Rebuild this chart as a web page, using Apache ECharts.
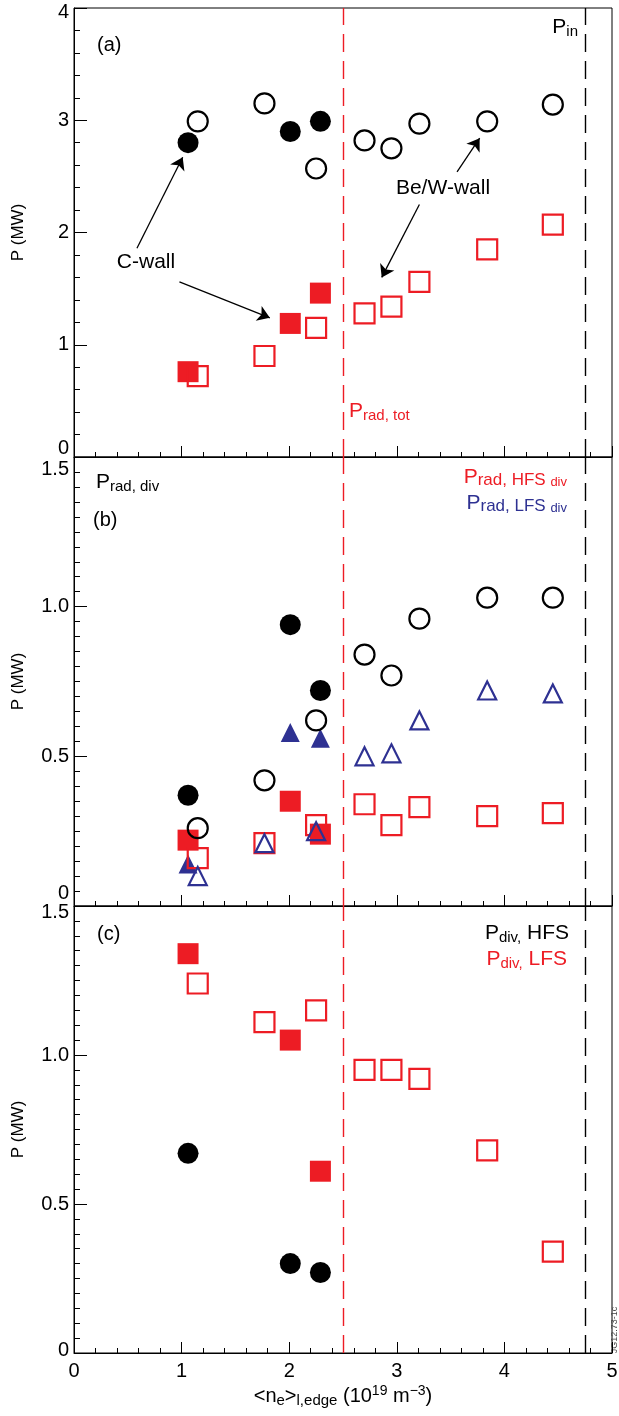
<!doctype html>
<html>
<head>
<meta charset="UTF-8">
<title>P vs edge density</title>
<script src="https://cdn.jsdelivr.net/npm/echarts@6/dist/echarts.min.js"></script>
<style>
  html, body { margin: 0; padding: 0; background: #fff; }
  #main { width: 619px; height: 1416px; }
</style>
</head>
<body>
<div id="main"></div>
<script>
// densities (10^19 m^-3)
var xC  = [1.06, 2.01, 2.29];                                   // C-wall
var xBW = [1.15, 1.77, 2.25, 2.70, 2.95, 3.21, 3.84, 4.45];     // Be/W-wall

// (a) P_in (black circles), P_rad,tot (red squares)
var aInC   = [2.80, 2.90, 2.99];
var aInBW  = [2.99, 3.15, 2.57, 2.82, 2.75, 2.97, 2.99, 3.14];
var aTotC  = [0.76, 1.19, 1.46];
var aTotBW = [0.72, 0.90, 1.15, 1.28, 1.34, 1.56, 1.85, 2.07];

// (b) P_rad,div (black), HFS div (red), LFS div (blue)
var bDivC  = [0.37, 0.94, 0.72];
var bDivBW = [0.26, 0.42, 0.62, 0.84, 0.77, 0.96, 1.03, 1.03];
var bHfsC  = [0.22, 0.35, 0.24];
var bHfsBW = [0.16, 0.21, 0.27, 0.34, 0.27, 0.33, 0.30, 0.31];
var bLfsC  = [0.14, 0.58, 0.56];
var bLfsBW = [0.10, 0.21, 0.25, 0.50, 0.51, 0.62, 0.72, 0.71];

// (c) P_div,HFS (black), P_div,LFS (red)
var cHfsC  = [0.67, 0.30, 0.27];
var cLfsC  = [1.34, 1.05, 0.61];
var cLfsBW = [1.24, 1.11, 1.15, 0.95, 0.95, 0.92, 0.68, 0.34];

var xTicks = [0, 1, 2, 3, 4, 5];
var radLimit = 2.5;   // red dashed line
var pinLine = 4.75;   // black dashed line

var RED = '#ed1c24', BLUE = '#2e3192', BLK = '#000';
var FONT = '"Liberation Sans", Arial, Helvetica, sans-serif';

function pts(xs, ys) { return xs.map(function (x, i) { return [x, ys[i]]; }); }

function filled(g, sym, col, size, xs, ys) {
    return { type: 'scatter', xAxisIndex: g, yAxisIndex: g, symbol: sym, symbolSize: size,
        itemStyle: { color: col, opacity: 1 }, data: pts(xs, ys), z: 3 };
}
function open(g, sym, col, size, xs, ys) {
    return { type: 'scatter', xAxisIndex: g, yAxisIndex: g, symbol: sym, symbolSize: size,
        itemStyle: { color: 'rgba(0,0,0,0)', borderColor: col, borderWidth: 2.2, opacity: 1 },
        data: pts(xs, ys), z: 4 };
}
function vlines(g) {
    return { type: 'scatter', xAxisIndex: g, yAxisIndex: g, data: [], silent: true,
        markLine: { silent: true, symbol: 'none', label: { show: false },
            data: [
                { xAxis: radLimit, lineStyle: { color: RED, type: [18, 9], width: 1.4, opacity: 1 } },
                { xAxis: pinLine, lineStyle: { color: BLK, type: [18, 9], width: 1.4, opacity: 1 } }
            ] } };
}
function arrow(x1, y1, x2, y2) {
    return [{ coord: [x1, y1] }, { coord: [x2, y2] }];
}

var grids = [
    { left: 74, right: 7, top: 8, height: 449 },
    { left: 74, right: 7, top: 457, height: 449 },
    { left: 74, right: 7, top: 906, height: 447 }
];
grids.forEach(function (g) {
    g.show = true; g.borderColor = BLK; g.borderWidth = 1; g.backgroundColor = 'transparent';
    g.containLabel = false; g.outerBoundsMode = 'none';
});

var xAxes = [0, 1, 2].map(function (i) {
    return {
        gridIndex: i, type: 'value', min: 0, max: 5, interval: 1,
        axisLine: { lineStyle: { color: BLK, width: 1 } },
        axisTick: { inside: true, length: 11, lineStyle: { color: BLK } },
        minorTick: { show: true, splitNumber: 5, length: 5, lineStyle: { color: BLK } },
        splitLine: { show: false },
        axisLabel: { show: i === 2, margin: 8, color: BLK, fontSize: 20, fontFamily: FONT,
            formatter: function (v) { return xTicks.indexOf(v) >= 0 ? String(v) : ''; } },
        name: i === 2 ? '{b|<n}{s|e}{b|>}{s|l,edge}{b| (10}{u|19}{b| m}{u|\u22123}{b|)}' : '',
        nameLocation: 'middle', nameGap: 31,
        nameTextStyle: { fontFamily: FONT, color: BLK, rich: {
            b: { fontSize: 20, lineHeight: 24, fontFamily: FONT, color: BLK },
            s: { fontSize: 15, lineHeight: 6, verticalAlign: 'bottom', fontFamily: FONT, color: BLK },
            u: { fontSize: 14, lineHeight: 6, verticalAlign: 'top', fontFamily: FONT, color: BLK }
        } }
    };
});

// shift of the end labels, as in the original frame (px of padding)
var loPad = [17, 26, 6];
var hiPad = [8, 25, 13];

function yAxis(i, max, interval, minor) {
    return {
        gridIndex: i, type: 'value', min: 0, max: max, interval: interval,
        axisLine: { lineStyle: { color: BLK, width: 1 } },
        axisTick: { inside: true, length: 13, lineStyle: { color: BLK } },
        minorTick: { show: true, splitNumber: minor, length: 6, lineStyle: { color: BLK } },
        splitLine: { show: false },
        axisLabel: { margin: 5, color: BLK, fontSize: 20, fontFamily: FONT,
            formatter: function (v) {
                var t = (max === 4) ? String(v) : (v === 0 ? '0' : v.toFixed(1));
                if (v === 0) return '{lo|' + t + '}';
                if (v === max) return '{hi|' + t + '}';
                return t;
            },
            rich: {
                lo: { fontSize: 20, fontFamily: FONT, color: BLK, padding: [0, 0, loPad[i], 0] },
                hi: { fontSize: 20, fontFamily: FONT, color: BLK, padding: [hiPad[i], 0, 0, 0] }
            } },
        name: 'P (MW)', nameLocation: 'middle', nameGap: 47, nameRotate: 90,
        nameTextStyle: { fontSize: 17, fontFamily: FONT, color: BLK }
    };
}

var sub = {
    p:  { fontSize: 21, lineHeight: 24, fontFamily: FONT },
    s:  { fontSize: 15, lineHeight: 6, verticalAlign: 'bottom', fontFamily: FONT },
    m:  { fontSize: 17, lineHeight: 6, verticalAlign: 'bottom', fontFamily: FONT },
    t:  { fontSize: 13, lineHeight: 6, verticalAlign: 'bottom', fontFamily: FONT }
};
function richFor(col) {
    var r = {};
    Object.keys(sub).forEach(function (k) { r[k] = Object.assign({ fill: col }, sub[k]); });
    return r;
}
function label(x, y, text, col, align, size) {
    return { type: 'text', x: x, y: y, silent: true, z: 10,
        style: { text: text, fill: col, align: align || 'left', verticalAlign: 'middle',
            fontSize: size || 20, fontFamily: FONT, rich: richFor(col) } };
}

var series = [
    vlines(0), vlines(1), vlines(2),
    // (a)
    filled(0, 'rect', RED, 21, xC, aTotC),
    open(0, 'rect', RED, 20, xBW, aTotBW),
    filled(0, 'circle', BLK, 21, xC, aInC),
    open(0, 'circle', BLK, 20, xBW, aInBW),
    // (b)
    filled(1, 'rect', RED, 21, xC, bHfsC),
    open(1, 'rect', RED, 20, xBW, bHfsBW),
    filled(1, 'triangle', BLUE, 19, xC, bLfsC),
    open(1, 'triangle', BLUE, 18, xBW, bLfsBW),
    filled(1, 'circle', BLK, 21, xC, bDivC),
    open(1, 'circle', BLK, 20, xBW, bDivBW),
    // (c)
    filled(2, 'rect', RED, 21, xC, cLfsC),
    open(2, 'rect', RED, 20, xBW, cLfsBW),
    filled(2, 'circle', BLK, 21, xC, cHfsC)
];

// annotation arrows in panel (a)
series.push({ type: 'scatter', xAxisIndex: 0, yAxisIndex: 0, data: [], silent: true,
    markLine: { silent: true, symbol: ['none', 'arrow'], symbolSize: 12, label: { show: false },
        lineStyle: { color: BLK, type: 'solid', width: 1.3, opacity: 1 },
        data: [
            arrow(0.585, 1.86, 1.01, 2.67),
            arrow(0.98, 1.56, 1.82, 1.24),
            arrow(3.21, 2.25, 2.86, 1.60),
            arrow(3.56, 2.54, 3.77, 2.84)
        ] } });

var option = {
    animation: false,
    backgroundColor: '#fff',
    grid: grids,
    xAxis: xAxes,
    yAxis: [yAxis(0, 4, 1, 5), yAxis(1, 1.5, 0.5, 10), yAxis(2, 1.5, 0.5, 10)],
    series: series,
    graphic: [
        label(97, 45, '(a)', BLK, 'left', 20),
        label(578, 27, '{p|P}{s|in}', BLK, 'right'),
        label(349, 411, '{p|P}{s|rad, tot}', RED, 'left'),
        label(146, 262, 'C-wall', BLK, 'center', 21),
        label(443, 188, 'Be/W-wall', BLK, 'center', 21),
        label(96, 482, '{p|P}{s|rad, div}', BLK, 'left'),
        label(93, 520, '(b)', BLK, 'left', 20),
        label(567, 477, '{p|P}{m|rad, HFS }{t|div}', RED, 'right'),
        label(567, 503, '{p|P}{m|rad, LFS }{t|div}', BLUE, 'right'),
        label(97, 934, '(c)', BLK, 'left', 20),
        label(569, 933, '{p|P}{s|div,}{p| HFS}', BLK, 'right'),
        label(567, 959, '{p|P}{s|div,}{p| LFS}', RED, 'right'),
        { type: 'text', x: 615, y: 1330, rotation: Math.PI / 2, silent: true,
          style: { text: 'JG12.73-1c', fill: '#444', fontSize: 9, fontFamily: FONT,
                   align: 'center', verticalAlign: 'middle' } }
    ]
};

var chart = echarts.init(document.getElementById('main'), null, { renderer: 'canvas' });
chart.setOption(option);
</script>
</body>
</html>
